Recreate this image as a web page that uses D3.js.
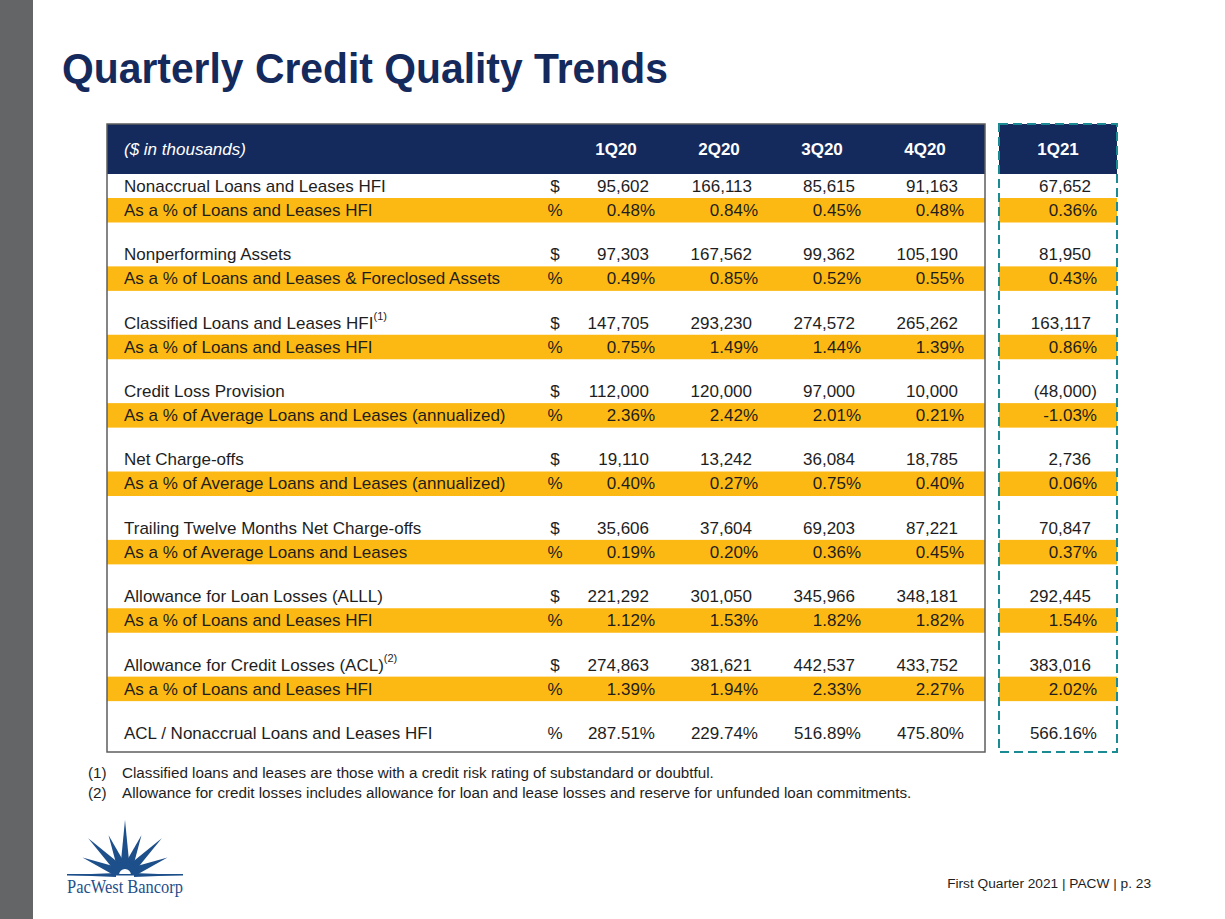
<!DOCTYPE html>
<html>
<head>
<meta charset="utf-8">
<script src="https://cdn.jsdelivr.net/npm/d3@7/dist/d3.min.js"></script>
<style>
  html, body { margin: 0; padding: 0; background: #ffffff; }
  svg { display: block; font-family: "Liberation Sans", Arial, sans-serif; }
</style>
</head>
<body>
<svg id="chart" width="1225" height="919"></svg>
<script>
// ---------------- DATA ----------------
const title = "Quarterly Credit Quality Trends";
const unitsLabel = "($ in thousands)";
const quarters = ["1Q20", "2Q20", "3Q20", "4Q20"];
const currentQuarter = "1Q21";

const metricLabels = [
  "Nonaccrual Loans and Leases HFI",
  "Nonperforming Assets",
  "Classified Loans and Leases HFI",
  "Credit Loss Provision",
  "Net Charge-offs",
  "Trailing Twelve Months Net Charge-offs",
  "Allowance for Loan Losses (ALLL)",
  "Allowance for Credit Losses (ACL)"
];
const metricNotes = [null, null, "(1)", null, null, null, null, "(2)"];
const pctLabels = [
  "As a % of Loans and Leases HFI",
  "As a % of Loans and Leases & Foreclosed Assets",
  "As a % of Loans and Leases HFI",
  "As a % of Average Loans and Leases (annualized)",
  "As a % of Average Loans and Leases (annualized)",
  "As a % of Average Loans and Leases",
  "As a % of Loans and Leases HFI",
  "As a % of Loans and Leases HFI"
];

// values: 1Q20, 2Q20, 3Q20, 4Q20, 1Q21
const nonaccrual      = [95602, 166113, 85615, 91163, 67652];
const nonaccrualPct   = [0.48, 0.84, 0.45, 0.48, 0.36];
const nonperforming   = [97303, 167562, 99362, 105190, 81950];
const nonperformingPct= [0.49, 0.85, 0.52, 0.55, 0.43];
const classified      = [147705, 293230, 274572, 265262, 163117];
const classifiedPct   = [0.75, 1.49, 1.44, 1.39, 0.86];
const provision       = [112000, 120000, 97000, 10000, -48000];
const provisionPct    = [2.36, 2.42, 2.01, 0.21, -1.03];
const netChargeoffs   = [19110, 13242, 36084, 18785, 2736];
const netChargeoffsPct= [0.40, 0.27, 0.75, 0.40, 0.06];
const ttmChargeoffs   = [35606, 37604, 69203, 87221, 70847];
const ttmChargeoffsPct= [0.19, 0.20, 0.36, 0.45, 0.37];
const alll            = [221292, 301050, 345966, 348181, 292445];
const alllPct         = [1.12, 1.53, 1.82, 1.82, 1.54];
const acl             = [274863, 381621, 442537, 433752, 383016];
const aclPct          = [1.39, 1.94, 2.33, 2.27, 2.02];
const aclNonaccrualLabel = "ACL / Nonaccrual Loans and Leases HFI";
const aclNonaccrual   = [287.51, 229.74, 516.89, 475.80, 566.16];

const dollarSeries = [nonaccrual, nonperforming, classified, provision, netChargeoffs, ttmChargeoffs, alll, acl];
const pctSeries    = [nonaccrualPct, nonperformingPct, classifiedPct, provisionPct, netChargeoffsPct, ttmChargeoffsPct, alllPct, aclPct];

const footnotes = [
  ["(1)", "Classified loans and leases are those with a credit risk rating of substandard or doubtful."],
  ["(2)", "Allowance for credit losses includes allowance for loan and lease losses and reserve for unfunded loan commitments."]
];
const footerText = "First Quarter 2021 | PACW | p. 23";
const logoText = "PacWest Bancorp";

// ---------------- STYLE / LAYOUT ----------------
const navy = "#152a5c";
const gold = "#fdb913";
const teal = "#1b8b93";
const textCol = "#1e1e1e";
const W = 1225, H = 919;
const tbl = { x0: 107, x1: 985, y0: 124, hdr: 50, y1: 752 };
const box = { x0: 999, x1: 1117 };
const rowH = 24;

const svg = d3.select("#chart");

// left grey bar
svg.append("rect").attr("x", 0).attr("y", 0).attr("width", 33).attr("height", H).attr("fill", "#646567");

// title
svg.append("text").attr("transform", "translate(62,83) scale(0.95,1)")
  .attr("font-size", 43).attr("font-weight", "bold").attr("fill", navy)
  .text(title);

// scales
const x = d3.scalePoint().domain(quarters).range([616, 925]);
const xCur = (box.x0 + box.x1) / 2;
const colX = (i) => i < quarters.length ? x(quarters[i]) : xCur;
const groupY = d3.scaleLinear().domain([0, 8]).range([tbl.y0 + tbl.hdr, 721]);

const fmtNum = d3.format(",");
const fmtPct = (v) => (v < 0 ? "-" : "") + d3.format(".2f")(Math.abs(v)) + "%";

// header backgrounds
svg.append("rect").attr("x", tbl.x0).attr("y", tbl.y0).attr("width", tbl.x1 - tbl.x0).attr("height", tbl.hdr).attr("fill", navy);
svg.append("rect").attr("x", box.x0).attr("y", tbl.y0).attr("width", box.x1 - box.x0).attr("height", tbl.hdr).attr("fill", navy);

// gold bands
const bandIdx = d3.range(8);
svg.selectAll("rect.band").data(bandIdx).join("rect").attr("class", "band")
  .attr("x", tbl.x0).attr("width", tbl.x1 - tbl.x0)
  .attr("y", d => groupY(d) + rowH).attr("height", rowH + 0.5).attr("fill", gold);
svg.selectAll("rect.bandc").data(bandIdx).join("rect").attr("class", "bandc")
  .attr("x", box.x0).attr("width", box.x1 - box.x0)
  .attr("y", d => groupY(d) + rowH).attr("height", rowH + 0.5).attr("fill", gold);

// table border
svg.append("rect").attr("x", tbl.x0).attr("y", tbl.y0).attr("width", tbl.x1 - tbl.x0).attr("height", tbl.y1 - tbl.y0)
  .attr("fill", "none").attr("stroke", "#5e5e5e").attr("stroke-width", 1.5);
// dashed box
svg.append("rect").attr("x", box.x0).attr("y", tbl.y0).attr("width", box.x1 - box.x0).attr("height", tbl.y1 - tbl.y0)
  .attr("fill", "none").attr("stroke", teal).attr("stroke-width", 2).attr("stroke-dasharray", "9,5");

// header text
const hdrY = tbl.y0 + tbl.hdr / 2;
svg.append("text").attr("x", 124).attr("y", hdrY).attr("dy", "0.35em")
  .attr("font-size", 17).attr("font-style", "italic").attr("fill", "#fff").text(unitsLabel);
svg.selectAll("text.qh").data(quarters.concat([currentQuarter])).join("text").attr("class", "qh")
  .attr("x", (d, i) => colX(i)).attr("y", hdrY).attr("dy", "0.35em")
  .attr("text-anchor", "middle").attr("font-size", 17).attr("font-weight", "bold").attr("fill", "#fff")
  .text(d => d);

const fs = 17;
const numOff = 33, pctOff = 39;

function labelRow(y, label, note, sym) {
  const t = svg.append("text").attr("x", 124).attr("y", y).attr("dy", "0.35em")
    .attr("font-size", fs).attr("fill", textCol).text(label);
  if (note) {
    t.append("tspan").attr("font-size", 11).attr("dy", "-0.75em").text(note);
  }
  svg.append("text").attr("x", 555).attr("y", y).attr("dy", "0.35em")
    .attr("text-anchor", "middle").attr("font-size", fs).attr("fill", textCol).text(sym);
}

function valueRow(y, vals, kind) {
  svg.append("g").selectAll("text").data(vals).join("text")
    .attr("x", (d, i) => colX(i) + (kind === "pct" || d < 0 ? pctOff : numOff))
    .attr("y", y).attr("dy", "0.35em").attr("text-anchor", "end")
    .attr("font-size", fs).attr("fill", textCol)
    .text(d => kind === "pct" ? fmtPct(d) : (d < 0 ? "(" + fmtNum(-d) + ")" : fmtNum(d)));
}

metricLabels.forEach((lab, g) => {
  const y1 = groupY(g) + rowH / 2;
  const y2 = groupY(g) + rowH * 1.5;
  labelRow(y1, lab, metricNotes[g], "$");
  valueRow(y1, dollarSeries[g], "num");
  labelRow(y2, pctLabels[g], null, "%");
  valueRow(y2, pctSeries[g], "pct");
});
const yLast = groupY(8) + rowH / 2;
labelRow(yLast, aclNonaccrualLabel, null, "%");
valueRow(yLast, aclNonaccrual, "pct");

// footnotes
footnotes.forEach((f, i) => {
  const y = 773 + i * 20;
  svg.append("text").attr("x", 88).attr("y", y).attr("dy", "0.35em").attr("font-size", 15.2).attr("fill", textCol).text(f[0]);
  svg.append("text").attr("x", 122).attr("y", y).attr("dy", "0.35em").attr("font-size", 15.2).attr("fill", textCol).text(f[1]);
});

// footer
svg.append("text").attr("x", 1151).attr("y", 883).attr("dy", "0.35em").attr("text-anchor", "end")
  .attr("font-size", 13.7).attr("fill", textCol).text(footerText);

// logo (decorative sunburst)
const logoBlue = "#1d4f8b";
const cx = 125, cy = 875;
const logo = svg.append("g");
const rayLens = [58, 46, 52, 43, 55, 43, 52, 46, 58];
const rays = rayLens.map((len, i) => ({ a: Math.PI - i * Math.PI / 8, len }));
logo.selectAll("path.ray").data(rays).join("path").attr("class", "ray")
  .attr("d", d => {
    const r0 = 9;
    const hw = (d.a === Math.PI || d.a === 0) ? 2 : 4.5;
    const bx = cx + r0 * Math.cos(d.a), by = cy - r0 * Math.sin(d.a);
    const px = -Math.sin(d.a) * hw, py = -Math.cos(d.a) * hw;
    const tip = [cx + d.len * Math.cos(d.a), cy - d.len * Math.sin(d.a)];
    return `M${bx + px},${by + py}L${tip}L${bx - px},${by - py}Z`;
  })
  .attr("fill", logoBlue);
logo.append("path")
  .attr("d", d3.arc()({ innerRadius: 6, outerRadius: 13, startAngle: -Math.PI / 2, endAngle: Math.PI / 2 }))
  .attr("transform", `translate(${cx},${cy})`).attr("fill", logoBlue);
logo.append("rect").attr("x", 67).attr("y", cy - 1).attr("width", 116).attr("height", 1.5).attr("fill", logoBlue);
logo.append("text").attr("x", 67).attr("y", 893)
  .attr("font-family", "'Liberation Serif', 'Times New Roman', serif").attr("font-size", 18)
  .attr("textLength", 116).attr("lengthAdjust", "spacingAndGlyphs")
  .attr("fill", logoBlue).text(logoText);
</script>
</body>
</html>
